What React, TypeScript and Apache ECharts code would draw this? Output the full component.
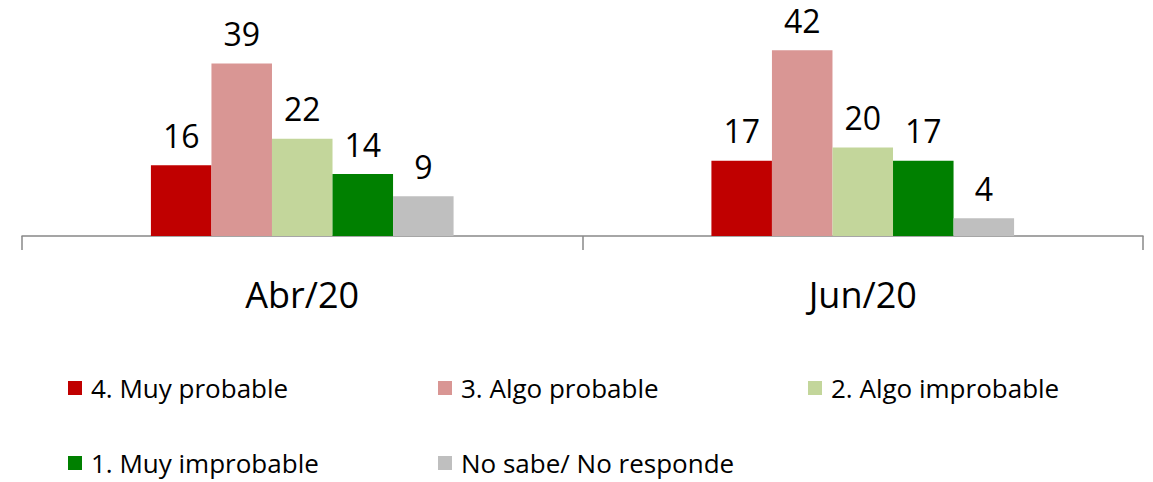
import React, { useEffect, useRef } from "react";
import * as echarts from "echarts";

const categories = ["Abr/20", "Jun/20"];
const seriesNames = [
  "4. Muy probable",
  "3. Algo probable",
  "2. Algo improbable",
  "1. Muy improbable",
  "No sabe/ No responde",
];
const muyProbable = [16, 17];
const algoProbable = [39, 42];
const algoImprobable = [22, 20];
const muyImprobable = [14, 17];
const noSabe = [9, 4];
const colors = ["#C00000", "#D99694", "#C3D69B", "#008000", "#BFBFBF"];

const FONT = "'Open Sans', sans-serif";

export default function App() {
  const ref = useRef<HTMLDivElement>(null);
  useEffect(() => {
    if (!ref.current) return;
    const chart = echarts.init(ref.current, undefined, { renderer: "svg" });
    const values = [muyProbable, algoProbable, algoImprobable, muyImprobable, noSabe];
    const legendPos = [
      { left: 68, top: 373 },
      { left: 438, top: 373 },
      { left: 808, top: 373 },
      { left: 68, top: 448 },
      { left: 438, top: 448 },
    ];
    chart.setOption({
      animation: false,
      textStyle: { fontFamily: FONT },
      grid: { left: 22, right: 10, top: 37, height: 199 },
      xAxis: {
        type: "category",
        data: categories,
        axisLine: { lineStyle: { color: "#888888", width: 1.5 } },
        axisTick: { show: true, length: 14, lineStyle: { color: "#888888", width: 1.5 } },
        axisLabel: { fontSize: 36, color: "#000", margin: 40, fontFamily: FONT },
      },
      yAxis: { type: "value", min: 0, max: 45, show: false, splitLine: { show: false } },
      legend: legendPos.map((p, i) => ({
        data: [seriesNames[i]],
        left: p.left,
        top: p.top,
        padding: 0,
        icon: "rect",
        itemWidth: 14,
        itemHeight: 14,
        selectedMode: false,
        textStyle: { fontSize: 26, color: "#000", lineHeight: 30, fontFamily: FONT, padding: [0, 0, 0, 4] },
      })),
      series: seriesNames.map((name, i) => ({
        type: "bar",
        name,
        data: values[i],
        barGap: "0%",
        barCategoryGap: "46%",
        itemStyle: { color: colors[i] },
        label: {
          show: true,
          position: "top",
          distance: 14,
          fontSize: 32,
          color: "#000",
          fontFamily: FONT,
        },
      })),
    });
    return () => chart.dispose();
  }, []);
  return (
    <div
      ref={ref}
      style={{ position: "absolute", left: 0, top: 0, width: 1153, height: 482, background: "#fff" }}
    />
  );
}
